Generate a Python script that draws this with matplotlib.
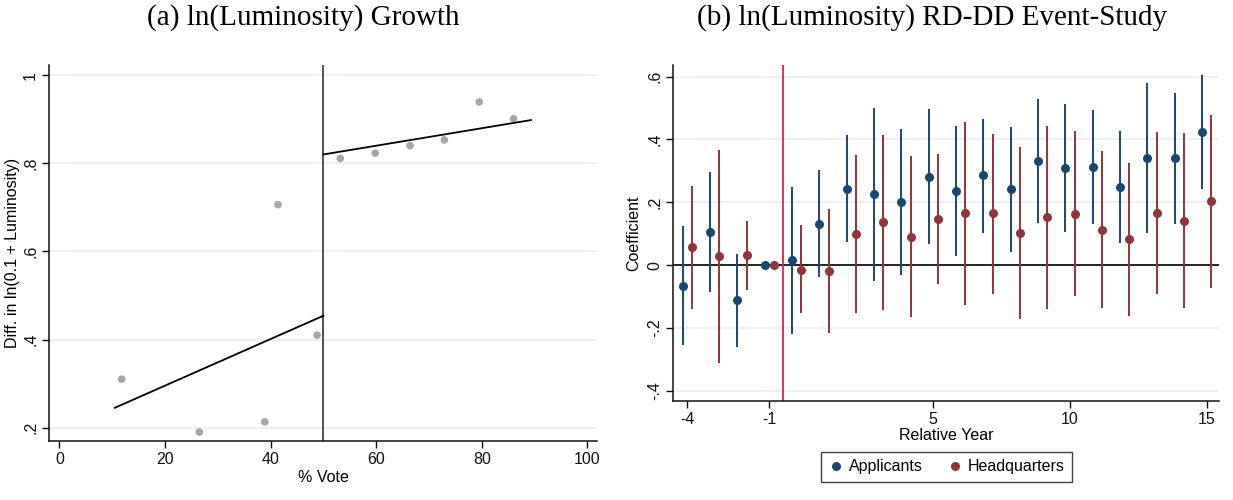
import numpy as np
import matplotlib
matplotlib.use("Agg")
import matplotlib.pyplot as plt
from matplotlib.lines import Line2D

# ---------------- data ----------------
# Panel (a)
vote = [11.8, 26.5, 38.9, 41.4, 48.8, 53.2, 59.8, 66.4, 72.9, 79.5, 86.0]
lum_diff = [0.310, 0.190, 0.213, 0.706, 0.410, 0.811, 0.823, 0.840, 0.853, 0.939, 0.901]
left_fit_x = [10.5, 50.0]
left_fit_y = [0.245, 0.454]
right_fit_x = [50.0, 89.3]
right_fit_y = [0.820, 0.898]
cutoff = 50

# Panel (b)
years = [-4, -3, -2, -1, 0, 1, 2, 3, 4, 5, 6, 7, 8, 9, 10, 11, 12, 13, 14, 15]
nan = np.nan
app_coef = [-0.067, 0.107, -0.111, 0.0, 0.016, 0.132, 0.243, 0.225, 0.201, 0.281,
            0.236, 0.286, 0.243, 0.332, 0.308, 0.313, 0.249, 0.340, 0.340, 0.424]
app_hi = [0.124, 0.298, 0.037, nan, 0.249, 0.304, 0.414, 0.499, 0.433, 0.497,
          0.443, 0.465, 0.440, 0.528, 0.512, 0.493, 0.428, 0.579, 0.547, 0.605]
app_lo = [-0.255, -0.086, -0.259, nan, -0.219, -0.038, 0.073, -0.051, -0.032, 0.067,
          0.028, 0.104, 0.042, 0.135, 0.105, 0.130, 0.071, 0.101, 0.132, 0.244]
hq_coef = [0.057, 0.029, 0.032, 0.0, -0.014, -0.018, 0.098, 0.137, 0.091, 0.146,
           0.165, 0.165, 0.102, 0.153, 0.164, 0.113, 0.083, 0.167, 0.142, 0.203]
hq_hi = [0.251, 0.367, 0.141, nan, 0.127, 0.180, 0.350, 0.415, 0.347, 0.353,
         0.456, 0.418, 0.377, 0.443, 0.428, 0.364, 0.325, 0.425, 0.420, 0.479]
hq_lo = [-0.138, -0.310, -0.078, nan, -0.153, -0.216, -0.151, -0.141, -0.165, -0.061,
         -0.128, -0.090, -0.172, -0.139, -0.099, -0.137, -0.161, -0.090, -0.135, -0.073]
event_line = -0.5

a_xticks = [0, 20, 40, 60, 80, 100]
a_yticks = [0.2, 0.4, 0.6, 0.8, 1.0]
a_yticklabels = [".2", ".4", ".6", ".8", "1"]
b_xticks = [-4, -1, 5, 10, 15]
b_xticklabels = ["-4", "-1", "5", "10", "15"]
b_yticks = [-0.4, -0.2, 0.0, 0.2, 0.4, 0.6]
b_yticklabels = ["-.4", "-.2", "0", ".2", ".4", ".6"]

# ---------------- style ----------------
NAVY = "#1a476f"
MAROON = "#90353b"
GRID = "#e6eef1"
SANS = ["Liberation Sans", "DejaVu Sans"]
SERIF = ["Liberation Serif", "DejaVu Serif"]
plt.rcParams["font.family"] = SANS
plt.rcParams["axes.unicode_minus"] = False

fig = plt.figure(figsize=(12.33, 5.0), dpi=100)
W, H = 1233, 500


def px_axes(x0, x1, ytop, ybot):
    return fig.add_axes([x0 / W, 1 - ybot / H, (x1 - x0) / W, (ybot - ytop) / H])


def style(ax):
    for s in ["top", "right"]:
        ax.spines[s].set_visible(False)
    for s in ["left", "bottom"]:
        ax.spines[s].set_linewidth(1.1)
        ax.spines[s].set_color("#111111")
    ax.tick_params(axis="both", direction="out", length=5, width=1.0,
                   labelsize=11.5, colors="#111111", pad=3)
    for lab in ax.get_yticklabels():
        lab.set_rotation(90)
        lab.set_va("center")
    ax.yaxis.grid(True, color=GRID, linewidth=1.2)
    ax.set_axisbelow(True)


# ---------------- panel (a) ----------------
axa = px_axes(49.3, 597, 65, 441.3)
axa.set_xlim(-1.9, 101.8)
axa.set_ylim(0.169, 1.023)
axa.set_xticks(a_xticks)
axa.set_yticks(a_yticks)
axa.set_yticklabels(a_yticklabels)
style(axa)
axa.scatter(vote, lum_diff, s=30, color="#a6a6a6", edgecolors="none", zorder=3)
axa.plot(left_fit_x, left_fit_y, color="black", lw=1.3, zorder=4)
axa.plot(right_fit_x, right_fit_y, color="black", lw=1.3, zorder=4)
axa.axvline(cutoff, color="#222222", lw=1.1, zorder=2)
axa.set_xlabel("% Vote", fontsize=11.5, labelpad=2)
axa.set_ylabel("Diff. in ln(0.1 + Luminosity)", fontsize=11.5, labelpad=2)

# ---------------- panel (b) ----------------
axb = px_axes(673.3, 1219, 65, 401)
axb.set_xlim(-4.51, 15.45)
axb.set_ylim(-0.432, 0.637)
axb.set_xticks(b_xticks)
axb.set_xticklabels(b_xticklabels)
axb.set_yticks(b_yticks)
axb.set_yticklabels(b_yticklabels)
style(axb)

yrs = np.array(years, dtype=float)
off = 0.17
axb.axhline(0, color="black", lw=1.2, zorder=2)
axb.axvline(event_line, color="#d6284a", lw=1.3, zorder=2)
axb.vlines(yrs - off, app_lo, app_hi, color=NAVY, lw=1.4, zorder=3)
axb.vlines(yrs + off, hq_lo, hq_hi, color=MAROON, lw=1.4, zorder=3)
axb.plot(yrs - off, app_coef, "o", color=NAVY, ms=6.5, mec="none", zorder=4)
axb.plot(yrs + off, hq_coef, "o", color=MAROON, ms=6.5, mec="none", zorder=4)
axb.set_xlabel("Relative Year", fontsize=11.5, labelpad=1)
axb.set_ylabel("Coefficient", fontsize=11.5, labelpad=4)

handles = [Line2D([], [], marker="o", ls="none", color=NAVY, ms=6.5, mec="none"),
           Line2D([], [], marker="o", ls="none", color=MAROON, ms=6.5, mec="none")]
leg = fig.legend(handles, ["Applicants", "Headquarters"], loc="center",
                 bbox_to_anchor=(946.5 / W, 1 - 467 / H), ncol=2, fontsize=11.5,
                 frameon=True, fancybox=False, handletextpad=0.3, columnspacing=1.5,
                 handlelength=1.0, borderpad=0.45)
leg.get_frame().set_edgecolor("#111111")
leg.get_frame().set_linewidth(1.0)

# ---------------- titles ----------------
fig.text(303 / W, 1 - 18 / H, "(a) ln(Luminosity) Growth", ha="center", va="center",
         fontsize=21, family=SERIF)
fig.text(932.5 / W, 1 - 18 / H, "(b) ln(Luminosity) RD-DD Event-Study", ha="center",
         va="center", fontsize=21, family=SERIF)

fig.savefig("out.png", dpi=100, facecolor="white")
